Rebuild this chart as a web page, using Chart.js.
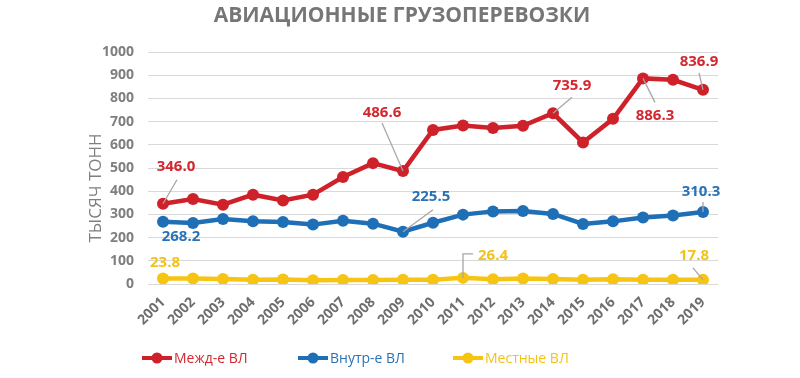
<!DOCTYPE html>
<html><head><meta charset="utf-8">
<script src="https://cdn.jsdelivr.net/npm/chart.js@4"></script>
<style>html,body{margin:0;padding:0;background:#fff}#wrap{width:800px;height:378px;position:relative}</style>
</head><body><div id="wrap"><canvas id="c" width="800" height="378"></canvas></div>
<script>
const chartTitle = 'АВИАЦИОННЫЕ ГРУЗОПЕРЕВОЗКИ';
const yAxisTitle = 'ТЫСЯЧ ТОНН';
const years = ['2001','2002','2003','2004','2005','2006','2007','2008','2009','2010','2011','2012','2013','2014','2015','2016','2017','2018','2019'];
const seriesNames = ['Межд-е ВЛ', 'Внутр-е ВЛ', 'Местные ВЛ'];
const intlValues = [346.0, 366, 342, 385, 360, 385, 461, 521, 486.6, 664, 683, 672, 682, 735.9, 610, 712, 886.3, 880, 836.9];
const domesticValues = [268.2, 263, 280, 270, 267, 256, 273, 260, 225.5, 264, 299, 313, 315, 302, 259, 270, 287, 295, 310.3];
const localValues = [23.8, 24, 22, 18, 19, 16, 17, 17, 18, 18, 26.4, 20, 24, 22, 18, 20, 18, 18, 17.8];
const yTickValues = [0, 100, 200, 300, 400, 500, 600, 700, 800, 900, 1000];
// which points carry a value label (series index, point index)
const labelledPoints = [[0,0],[0,8],[0,13],[0,16],[0,18],[1,0],[1,8],[1,18],[2,0],[2,10],[2,18]];

// styling / placement (pixels relative to the point)
const lineColors = ['#CF2129', '#1F6FB6', '#F6C413'];
const textColors = ['#D4262E', '#2A72B5', '#F3C21A'];
const labelPlacement = {
  '0,0':  {dx:13, dy:-37, leader:[[14,-24]]},
  '0,8':  {dx:-21, dy:-58, leader:[[-21,-48]]},
  '0,13': {dx:19, dy:-28, leader:[[19,-16]]},
  '0,16': {dx:12, dy:37, leader:[[12,24]]},
  '0,18': {dx:-4, dy:-28, leader:[[-4,-17]]},
  '1,0':  {dx:18, dy:15, leader:null},
  '1,8':  {dx:28, dy:-35, leader:[[30,-22]]},
  '1,18': {dx:-2, dy:-20, leader:[[0,-10]]},
  '2,0':  {dx:2, dy:-16, leader:null},
  '2,10': {dx:30, dy:-22, leader:[[0,-24],[10,-24]]},
  '2,18': {dx:-9, dy:-24, leader:[[-10,-12]]}
};
const legendX = [142, 298, 453];

const decorPlugin = {
  id: 'decor',
  afterDatasetsDraw(chart) {
    const ctx = chart.ctx;
    ctx.save();
    labelledPoints.forEach(([s, i]) => {
      const pt = chart.getDatasetMeta(s).data[i];
      const val = chart.data.datasets[s].data[i];
      const p = labelPlacement[s + ',' + i];
      if (p.leader) {
        ctx.strokeStyle = '#A6A6A6';
        ctx.lineWidth = 1.3;
        ctx.beginPath();
        ctx.moveTo(pt.x, pt.y);
        p.leader.forEach(([lx, ly]) => ctx.lineTo(pt.x + lx, pt.y + ly));
        ctx.stroke();
      }
      ctx.font = 'bold 15px "Open Sans", sans-serif';
      ctx.fillStyle = textColors[s];
      ctx.textAlign = 'center';
      ctx.textBaseline = 'middle';
      ctx.fillText(val.toFixed(1), pt.x + p.dx, pt.y + p.dy);
    });
    ctx.restore();
  },
  afterDraw(chart) {
    const ctx = chart.ctx;
    ctx.save();
    ctx.font = 'bold 21px "Open Sans", sans-serif';
    ctx.fillStyle = '#767676';
    ctx.textAlign = 'center';
    ctx.textBaseline = 'middle';
    ctx.fillText(chartTitle, 402, 16);
    ctx.save();
    ctx.translate(96, 188);
    ctx.rotate(-Math.PI / 2);
    ctx.font = '17px "Open Sans", sans-serif';
    ctx.fillStyle = '#7F7F7F';
    ctx.fillText(yAxisTitle, 0, 0);
    ctx.restore();
    chart.data.datasets.forEach((ds, k) => {
      const x0 = legendX[k], y0 = 358;
      ctx.strokeStyle = lineColors[k];
      ctx.fillStyle = lineColors[k];
      ctx.lineWidth = 4;
      ctx.beginPath();
      ctx.moveTo(x0, y0); ctx.lineTo(x0 + 30, y0);
      ctx.stroke();
      ctx.beginPath();
      ctx.arc(x0 + 15, y0, 5.5, 0, Math.PI * 2);
      ctx.fill();
      ctx.font = '14px "Open Sans", sans-serif';
      ctx.fillStyle = textColors[k];
      ctx.textAlign = 'left';
      ctx.fillText(ds.label, x0 + 32, y0 + 1);
    });
    ctx.restore();
  }
};

const mk = (k, vals) => ({
  label: seriesNames[k], data: vals,
  borderColor: lineColors[k], backgroundColor: lineColors[k],
  borderWidth: 4.5, pointRadius: 6, pointBorderWidth: 0,
  pointBackgroundColor: lineColors[k], tension: 0
});

new Chart(document.getElementById('c'), {
  type: 'line',
  data: { labels: years, datasets: [mk(0, intlValues), mk(1, domesticValues), mk(2, localValues)] },
  options: {
    responsive: false, animation: false,
    layout: { padding: { top: 52, right: 82, bottom: 40, left: 0 } },
    plugins: { legend: { display: false }, title: { display: false }, tooltip: { enabled: false } },
    scales: {
      x: {
        offset: true,
        grid: { display: false, drawTicks: false },
        border: { display: false },
        ticks: { minRotation: 45, maxRotation: 45, padding: 10, color: '#6E6E6E',
                 font: { family: '"Open Sans", sans-serif', size: 14, weight: 'bold' } },
        afterFit(s) { s.height = 54; }
      },
      y: {
        min: 0, max: 1000,
        afterBuildTicks(s) { s.ticks = yTickValues.map(v => ({ value: v })); },
        grid: { color: '#D9D9D9', lineWidth: 1, drawTicks: false },
        border: { display: false },
        ticks: { padding: 14, color: '#7F7F7F', callback: v => String(v),
                 font: { family: '"Open Sans", sans-serif', size: 14, weight: 'bold' } },
        afterFit(s) { s.width = 148; }
      }
    }
  },
  plugins: [decorPlugin]
});
</script></body></html>
